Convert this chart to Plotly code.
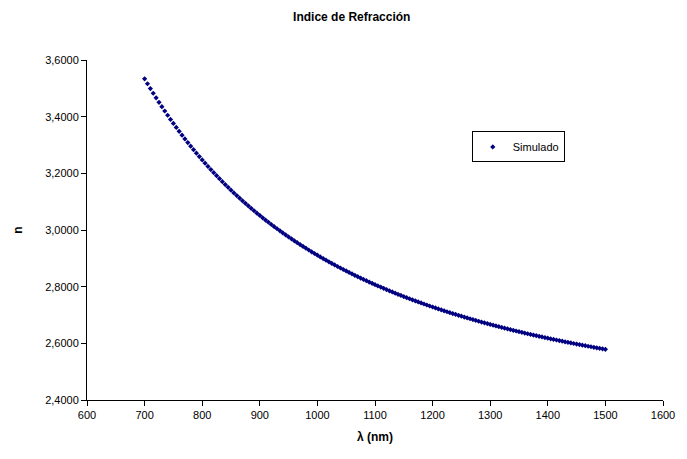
import plotly.graph_objects as go

# Wavelength samples (nm)
wavelength_nm = [
    700, 705, 710, 715, 720, 725, 730, 735, 740, 745, 750, 755, 760, 765, 770, 775,
    780, 785, 790, 795, 800, 805, 810, 815, 820, 825, 830, 835, 840, 845, 850, 855,
    860, 865, 870, 875, 880, 885, 890, 895, 900, 905, 910, 915, 920, 925, 930, 935,
    940, 945, 950, 955, 960, 965, 970, 975, 980, 985, 990, 995, 1000, 1005, 1010, 1015,
    1020, 1025, 1030, 1035, 1040, 1045, 1050, 1055, 1060, 1065, 1070, 1075, 1080, 1085,
    1090, 1095, 1100, 1105, 1110, 1115, 1120, 1125, 1130, 1135, 1140, 1145, 1150, 1155,
    1160, 1165, 1170, 1175, 1180, 1185, 1190, 1195, 1200, 1205, 1210, 1215, 1220, 1225,
    1230, 1235, 1240, 1245, 1250, 1255, 1260, 1265, 1270, 1275, 1280, 1285, 1290, 1295,
    1300, 1305, 1310, 1315, 1320, 1325, 1330, 1335, 1340, 1345, 1350, 1355, 1360, 1365,
    1370, 1375, 1380, 1385, 1390, 1395, 1400, 1405, 1410, 1415, 1420, 1425, 1430, 1435,
    1440, 1445, 1450, 1455, 1460, 1465, 1470, 1475, 1480, 1485, 1490, 1495, 1500,
]

# Simulated refractive index at each wavelength
n_simulado = [
    3.5334, 3.5162, 3.4993, 3.4827, 3.4666, 3.4507, 3.4352, 3.4200, 3.4050, 3.3904,
    3.3761, 3.3621, 3.3483, 3.3348, 3.3216, 3.3086, 3.2959, 3.2834, 3.2712, 3.2592,
    3.2474, 3.2358, 3.2244, 3.2133, 3.2024, 3.1916, 3.1810, 3.1707, 3.1605, 3.1505,
    3.1407, 3.1310, 3.1215, 3.1122, 3.1031, 3.0941, 3.0852, 3.0765, 3.0680, 3.0595,
    3.0513, 3.0431, 3.0351, 3.0273, 3.0195, 3.0119, 3.0044, 2.9970, 2.9898, 2.9826,
    2.9756, 2.9687, 2.9619, 2.9552, 2.9486, 2.9421, 2.9357, 2.9294, 2.9231, 2.9170,
    2.9110, 2.9051, 2.8992, 2.8935, 2.8878, 2.8822, 2.8767, 2.8712, 2.8659, 2.8606,
    2.8554, 2.8503, 2.8452, 2.8402, 2.8353, 2.8305, 2.8257, 2.8210, 2.8163, 2.8117,
    2.8072, 2.8027, 2.7984, 2.7940, 2.7897, 2.7855, 2.7813, 2.7772, 2.7731, 2.7691,
    2.7652, 2.7613, 2.7574, 2.7536, 2.7499, 2.7461, 2.7425, 2.7389, 2.7353, 2.7318,
    2.7283, 2.7248, 2.7214, 2.7181, 2.7148, 2.7115, 2.7083, 2.7051, 2.7019, 2.6988,
    2.6957, 2.6927, 2.6897, 2.6867, 2.6838, 2.6809, 2.6780, 2.6752, 2.6724, 2.6696,
    2.6668, 2.6641, 2.6615, 2.6588, 2.6562, 2.6536, 2.6511, 2.6485, 2.6460, 2.6436,
    2.6411, 2.6387, 2.6363, 2.6339, 2.6316, 2.6293, 2.6270, 2.6247, 2.6225, 2.6203,
    2.6181, 2.6159, 2.6138, 2.6117, 2.6096, 2.6075, 2.6054, 2.6034, 2.6014, 2.5994,
    2.5974, 2.5955, 2.5935, 2.5916, 2.5897, 2.5879, 2.5860, 2.5842, 2.5824, 2.5806,
    2.5788,
]

FONT = "Liberation Sans, Arial, sans-serif"
NAVY = "#000080"

fig = go.Figure()
fig.add_trace(go.Scatter(
    x=wavelength_nm,
    y=n_simulado,
    mode="markers",
    name="Simulado",
    marker=dict(symbol="diamond", size=4, color=NAVY, line=dict(width=0)),
))

fig.update_layout(
    width=687,
    height=459,
    margin=dict(l=87, r=17, t=60, b=59),
    paper_bgcolor="white",
    plot_bgcolor="white",
    separators=",.",
    font=dict(family=FONT, size=11, color="black"),
    title=dict(
        text="<b>Indice de Refracción</b>",
        x=0.512, xanchor="center", xref="container",
        y=0.963, yanchor="middle",
        font=dict(family=FONT, size=12, color="black"),
    ),
    xaxis=dict(
        range=[600, 1600],
        dtick=100,
        tick0=600,
        showgrid=False,
        zeroline=False,
        showline=True,
        linecolor="black",
        linewidth=1,
        ticks="outside",
        ticklen=5,
        tickcolor="black",
        tickfont=dict(family=FONT, size=11),
        title=dict(text="<b>λ (nm)</b>", font=dict(family=FONT, size=12), standoff=12),
    ),
    yaxis=dict(
        range=[2.4, 3.6],
        dtick=0.2,
        tick0=2.4,
        tickformat=".4f",
        showgrid=False,
        zeroline=False,
        showline=True,
        linecolor="black",
        linewidth=1,
        ticks="outside",
        ticklen=5,
        tickcolor="black",
        tickfont=dict(family=FONT, size=11),
        title=dict(text="<b>n</b>", font=dict(family=FONT, size=12), standoff=19),
    ),
    showlegend=True,
    legend=dict(
        x=0.668, y=0.79, xanchor="left", yanchor="top",
        bordercolor="black", borderwidth=1, bgcolor="white",
        font=dict(family=FONT, size=11),
        itemwidth=30,
        tracegroupgap=0,
    ),
)

fig.write_html("out.html")
